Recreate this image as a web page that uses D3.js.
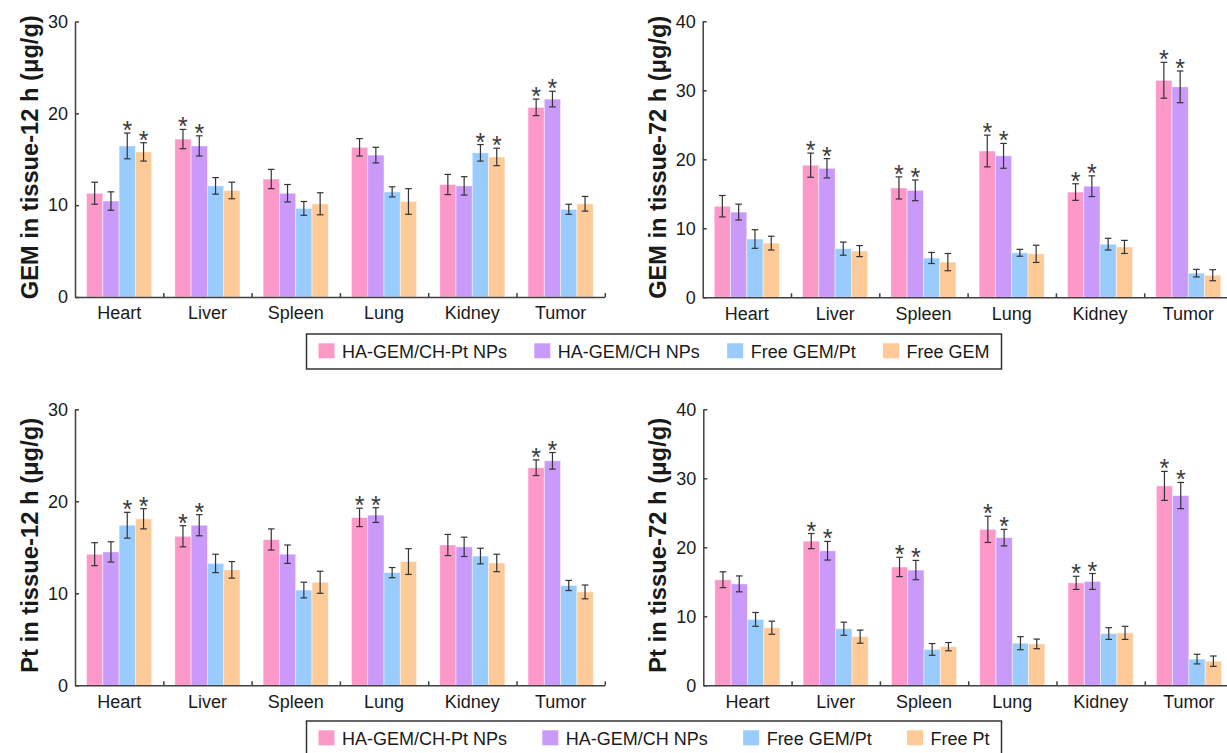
<!DOCTYPE html>
<html>
<head>
<meta charset="utf-8">
<script src="https://cdn.jsdelivr.net/npm/d3@7"></script>
<style>
body { margin: 0; background: #fff; }
svg text { font-family: "Liberation Sans", Arial, sans-serif; fill: #1a1a1a; }
</style>
</head>
<body>
<svg id="chart" width="1227" height="753"></svg>
<script>
// data
var categories = ["Heart", "Liver", "Spleen", "Lung", "Kidney", "Tumor"];
var gemSeries = ["HA-GEM/CH-Pt NPs", "HA-GEM/CH NPs", "Free GEM/Pt", "Free GEM"];
var ptSeries = ["HA-GEM/CH-Pt NPs", "HA-GEM/CH NPs", "Free GEM/Pt", "Free Pt"];

// one row per organ, one column per series
var gem12Mean = [[11.3, 10.45, 16.45, 15.8], [17.2, 16.45, 12.1, 11.6], [12.85, 11.3, 9.65, 10.15],
                 [16.3, 15.45, 11.45, 10.4], [12.25, 12.1, 15.7, 15.25], [20.65, 21.55, 9.55, 10.15]];
var gem12Err = [[1.2, 1.0, 1.4, 1.0], [1.05, 1.1, 0.9, 0.9], [1.05, 0.95, 0.75, 1.2],
                [0.95, 0.85, 0.55, 1.4], [1.1, 1.0, 0.9, 0.95], [0.9, 0.85, 0.55, 0.8]];
var gem12Star = [[0, 0, 1, 1], [1, 1, 0, 0], [0, 0, 0, 0], [0, 0, 0, 0], [0, 0, 1, 1], [1, 1, 0, 0]];

var gem72Mean = [[13.2, 12.35, 8.45, 7.85], [19.15, 18.7, 7.05, 6.7], [15.85, 15.5, 5.7, 5.1],
                 [21.2, 20.5, 6.45, 6.3], [15.25, 16.1, 7.7, 7.3], [31.45, 30.5, 3.5, 3.2]];
var gem72Err = [[1.55, 1.15, 1.35, 1.0], [1.75, 1.4, 0.95, 0.8], [1.6, 1.5, 0.8, 1.25],
                [2.3, 1.8, 0.5, 1.25], [1.2, 1.5, 0.85, 0.95], [2.6, 2.3, 0.55, 0.8]];
var gem72Star = [[0, 0, 0, 0], [1, 1, 0, 0], [1, 1, 0, 0], [1, 1, 0, 0], [1, 1, 0, 0], [1, 1, 0, 0]];

var pt12Mean = [[14.25, 14.5, 17.4, 18.1], [16.2, 17.4, 13.25, 12.55], [15.85, 14.25, 10.35, 11.2],
                [18.25, 18.5, 12.25, 13.45], [15.25, 15.05, 14.05, 13.3], [23.65, 24.4, 10.85, 10.15]];
var pt12Err = [[1.25, 1.1, 1.4, 1.1], [1.15, 1.15, 1.0, 0.9], [1.15, 1.0, 0.85, 1.2],
               [1.0, 0.8, 0.55, 1.4], [1.15, 1.05, 0.85, 0.95], [0.85, 0.9, 0.55, 0.75]];
var pt12Star = [[0, 0, 1, 1], [1, 1, 0, 0], [0, 0, 0, 0], [1, 1, 0, 0], [0, 0, 0, 0], [1, 1, 0, 0]];

var pt72Mean = [[15.3, 14.7, 9.55, 8.35], [20.9, 19.5, 8.2, 7.05], [17.15, 16.7, 5.2, 5.6],
                [22.6, 21.4, 6.1, 6.0], [14.85, 15.05, 7.5, 7.6], [28.9, 27.5, 3.8, 3.5]];
var pt72Err = [[1.15, 1.15, 1.0, 0.95], [1.1, 1.35, 0.95, 0.95], [1.4, 1.4, 0.85, 0.6],
               [1.9, 1.2, 0.95, 0.7], [0.95, 1.15, 0.85, 0.95], [2.1, 1.9, 0.7, 0.75]];
var pt72Star = [[0, 0, 0, 0], [1, 1, 0, 0], [1, 1, 0, 0], [1, 1, 0, 0], [1, 1, 0, 0], [1, 1, 0, 0]];

var colors = ["#fd99c9", "#c99afa", "#99cbfd", "#fdca98"];

var svg = d3.select("#chart");

function drawPanel(p) {
  var g = svg.append("g");
  var x = d3.scaleBand().domain(categories).range([p.left, p.left + 6 * 88.3]);
  var xs = d3.scaleBand().domain(d3.range(4)).range([11.5, 11.5 + 65.2]);
  var y = d3.scaleLinear().domain([0, p.max]).range([p.bottom, p.top]);

  // flatten into bar records
  var bars = [];
  categories.forEach(function(c, i) {
    for (var j = 0; j < 4; j++) {
      bars.push({cat: c, s: j, m: p.mean[i][j], e: p.err[i][j], star: p.star[i][j]});
    }
  });

  g.selectAll("rect.bar").data(bars).enter().append("rect")
    .attr("class", "bar")
    .attr("x", function(d) { return x(d.cat) + xs(d.s); })
    .attr("width", xs.bandwidth())
    .attr("y", function(d) { return y(d.m); })
    .attr("height", function(d) { return y(0) - y(d.m); })
    .attr("fill", function(d) { return colors[d.s]; })
    .attr("stroke", "#fff")
    .attr("stroke-opacity", 0.6)
    .attr("stroke-width", 0.8);

  var cx = function(d) { return x(d.cat) + xs(d.s) + xs.bandwidth() / 2; };
  var eb = g.selectAll("g.err").data(bars).enter().append("g").attr("class", "err")
    .attr("stroke", "#333").attr("stroke-width", 1.2);
  eb.append("line")
    .attr("x1", cx).attr("x2", cx)
    .attr("y1", function(d) { return y(d.m - d.e); })
    .attr("y2", function(d) { return y(d.m + d.e); });
  eb.append("line")
    .attr("x1", function(d) { return cx(d) - 3.3; }).attr("x2", function(d) { return cx(d) + 3.3; })
    .attr("y1", function(d) { return y(d.m + d.e); }).attr("y2", function(d) { return y(d.m + d.e); });
  eb.append("line")
    .attr("x1", function(d) { return cx(d) - 3.3; }).attr("x2", function(d) { return cx(d) + 3.3; })
    .attr("y1", function(d) { return y(d.m - d.e); }).attr("y2", function(d) { return y(d.m - d.e); });

  g.selectAll("text.star").data(bars.filter(function(d) { return d.star; })).enter().append("text")
    .attr("class", "star")
    .attr("x", cx)
    .attr("y", function(d) { return y(d.m + d.e) + 6; })
    .attr("text-anchor", "middle")
    .style("font-size", "25px")
    .style("fill", "#3a3a3a")
    .text("*");

  // y axis, ticks pointing inward
  var ya = g.append("g")
    .attr("transform", "translate(" + p.left + ",0)")
    .call(d3.axisLeft(y).tickValues(d3.range(0, p.max + 1, 10)).tickSize(-4).tickSizeOuter(0).tickPadding(7));
  ya.selectAll("text").style("font-size", "18px").style("fill", "#1a1a1a");

  // x axis: boundary ticks on a plain index scale, names under the band centres
  var xb = d3.scaleLinear().domain([0, 6]).range(x.range());
  g.append("g")
    .attr("transform", "translate(0," + p.bottom + ")")
    .call(d3.axisBottom(xb).tickValues(d3.range(1, 7)).tickSize(-4).tickSizeOuter(0).tickFormat(""));
  var xl = g.append("g")
    .attr("transform", "translate(0," + p.bottom + ")")
    .call(d3.axisBottom(x).tickSize(0).tickPadding(9.5));
  xl.select(".domain").remove();
  xl.selectAll("text").style("font-size", "18px").style("fill", "#1a1a1a");

  g.selectAll(".domain, .tick line").attr("stroke", "#404040").attr("stroke-width", 1.5);

  g.append("text")
    .attr("transform", "translate(" + (p.left - 37) + "," + ((p.top + p.bottom) / 2 - 2) + ") rotate(-90)")
    .attr("text-anchor", "middle")
    .attr("textLength", p.titleLen)
    .attr("lengthAdjust", "spacingAndGlyphs")
    .style("font-size", "24.5px")
    .style("font-weight", "bold")
    .text(p.title);
}

function drawLegend(top, names) {
  var left = 306.5, right = 1001.5, pad = 12;
  var lg = svg.append("g");
  lg.append("rect")
    .attr("x", left).attr("y", top).attr("width", right - left).attr("height", 35)
    .attr("fill", "#fff").attr("stroke", "#333").attr("stroke-width", 1.5);
  var items = lg.selectAll("g.item").data(names).enter().append("g").attr("class", "item");
  items.append("rect")
    .attr("width", 16).attr("height", 15).attr("y", top + 9.3)
    .attr("fill", function(d, i) { return colors[i]; });
  var labels = items.append("text")
    .attr("x", 23.5).attr("y", top + 23.8)
    .style("font-size", "18px")
    .text(function(d) { return d; });
  var widths = [];
  labels.each(function() { widths.push(23.5 + this.getComputedTextLength()); });
  var gap = (right - left - 2 * pad - d3.sum(widths)) / (names.length - 1);
  var pos = left + pad;
  items.attr("transform", function(d, i) {
    var t = "translate(" + pos + ",0)";
    pos += widths[i] + gap;
    return t;
  });
}

drawPanel({left: 75, top: 21.5, bottom: 297, max: 30, mean: gem12Mean, err: gem12Err, star: gem12Star,
           title: "GEM in tissue-12 h (\u03bcg/g)", titleLen: 284});
drawPanel({left: 702.7, top: 21.3, bottom: 297.3, max: 40, mean: gem72Mean, err: gem72Err, star: gem72Star,
           title: "GEM in tissue-72 h (\u03bcg/g)", titleLen: 283});
drawPanel({left: 75, top: 409.3, bottom: 685.3, max: 30, mean: pt12Mean, err: pt12Err, star: pt12Star,
           title: "Pt in tissue-12 h (\u03bcg/g)", titleLen: 255});
drawPanel({left: 703.3, top: 409.3, bottom: 685.3, max: 40, mean: pt72Mean, err: pt72Err, star: pt72Star,
           title: "Pt in tissue-72 h (\u03bcg/g)", titleLen: 255});

drawLegend(334, gemSeries);
drawLegend(721, ptSeries);
</script>
</body>
</html>
